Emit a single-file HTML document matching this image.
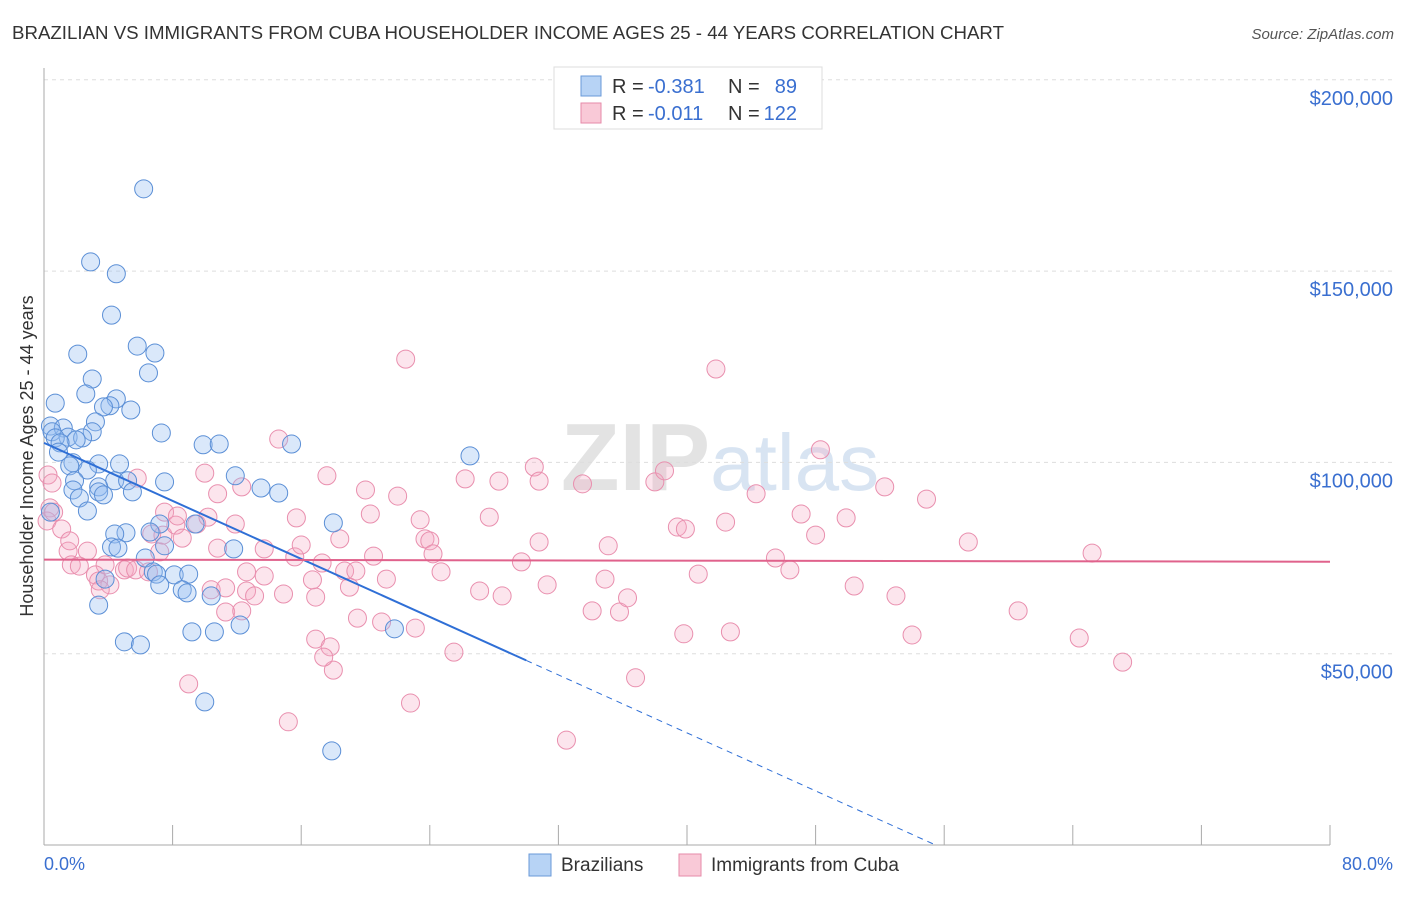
<!DOCTYPE html>
<html><head><meta charset="utf-8"><style>
body{margin:0;background:#fff;font-family:"Liberation Sans",sans-serif;}
</style></head><body>
<svg width="1406" height="892" xmlns="http://www.w3.org/2000/svg" id="svg" style="font-family:'Liberation Sans',sans-serif">
<text x="12" y="39" font-size="18" fill="#333" textLength="992" lengthAdjust="spacingAndGlyphs">BRAZILIAN VS IMMIGRANTS FROM CUBA HOUSEHOLDER INCOME AGES 25 - 44 YEARS CORRELATION CHART</text>
<text x="1394" y="39" font-size="15" fill="#555" text-anchor="end" font-style="italic">Source: ZipAtlas.com</text>
<text x="720" y="490" font-size="96" fill="#e3e3e3" text-anchor="middle" font-weight="bold">ZIP<tspan fill="#d8e4f2" font-weight="normal" font-size="80">atlas</tspan></text>
<g id="grid"></g>
<g id="marks"></g>
<text transform="translate(33,456) rotate(-90)" font-size="18" fill="#333" text-anchor="middle">Householder Income Ages 25 - 44 years</text>
<text x="44" y="870" font-size="18" fill="#3a6fd0">0.0%</text>
<text x="1393" y="870" font-size="18" fill="#3a6fd0" text-anchor="end">80.0%</text>
<g>
<rect x="554" y="67" width="268" height="62" fill="#fff" stroke="#ddd"/>
<rect x="581" y="76" width="20" height="20" fill="#b7d3f5" stroke="#6a9ad8"/>
<rect x="581" y="103" width="20" height="20" fill="#f9c9d7" stroke="#e68aa8"/>
<text x="612" y="93" font-size="20" fill="#333">R =</text>
<text x="648" y="93" font-size="20" fill="#3a6fd0">-0.381</text>
<text x="728" y="93" font-size="20" fill="#333">N =</text>
<text x="797" y="93" font-size="20" fill="#3a6fd0" text-anchor="end">89</text>
<text x="612" y="120" font-size="20" fill="#333">R =</text>
<text x="648" y="120" font-size="20" fill="#3a6fd0">-0.011</text>
<text x="728" y="120" font-size="20" fill="#333">N =</text>
<text x="797" y="120" font-size="20" fill="#3a6fd0" text-anchor="end">122</text>
</g>
<g>
<rect x="529" y="854" width="22" height="22" fill="#b7d3f5" stroke="#6a9ad8"/>
<text x="561" y="871" font-size="19" fill="#333">Brazilians</text>
<rect x="679" y="854" width="22" height="22" fill="#f9c9d7" stroke="#e68aa8"/>
<text x="711" y="871" font-size="19" fill="#333">Immigrants from Cuba</text>
</g>
</svg>
<script>
const yTicks=[50000,100000,150000,200000];
const yTickLabels=["$50,000","$100,000","$150,000","$200,000"];
const xTicks=[0,8,16,24,32,40,48,56,64,72,80];
const bluePct=[6.2,2.9,4.5,4.2,2.1,5.8,6.9,6.5,3.0,2.6,4.5,0.7,4.1,3.7,5.4,3.2,0.4,1.2,0.5,3.0,7.3,1.5,0.7,2.4,2.0,1.0,9.9,10.9,15.4,0.9,26.5,1.8,4.7,3.4,1.6,2.7,11.9,4.4,7.5,1.9,3.4,5.2,13.5,14.6,1.8,3.4,3.7,5.5,2.2,2.7,0.4,9.4,18.0,7.2,5.1,4.4,6.6,4.2,7.5,4.6,11.8,6.3,6.8,8.1,7.0,9.0,3.8,7.2,8.6,8.9,10.4,3.4,12.2,21.8,9.2,10.6,5.0,6.0,10.0,17.9];
const blueK=[171.5,152.4,149.3,138.5,128.3,130.4,128.6,123.4,121.8,117.9,116.6,115.5,114.8,114.5,113.7,110.6,109.5,109.0,108.0,108.0,107.7,106.6,106.4,106.4,105.9,105.1,104.6,104.8,104.8,102.7,101.7,99.9,99.6,99.6,99.1,98.0,96.5,95.2,94.9,95.2,93.6,95.2,93.3,92.0,92.8,92.3,91.5,92.3,90.7,87.3,87.0,83.9,84.2,83.9,81.6,81.3,81.8,77.9,78.2,77.6,77.4,75.0,71.4,70.6,70.8,70.8,69.5,68.0,66.7,65.9,65.1,62.7,57.5,56.5,55.7,55.7,53.1,52.3,37.4,24.6];
const pinkPct=[0.25,0.5,0.37,0.19,1.1,1.5,2.7,1.7,2.2,3.8,3.2,5.0,5.2,3.4,4.1,5.7,6.5,7.2,6.7,5.8,7.5,7.4,8.2,8.3,8.6,9.5,10.0,10.8,10.2,10.8,11.9,12.3,10.4,11.3,12.6,12.6,13.7,13.7,13.1,14.9,15.7,15.6,16.0,14.6,16.9,16.7,17.3,17.6,18.4,18.7,19.4,19.0,20.0,20.3,20.5,19.5,21.0,21.3,22.0,22.5,23.4,23.7,24.0,24.2,24.7,23.1,22.8,15.2,16.9,17.8,18.0,17.4,9.0,25.5,26.2,27.1,27.7,28.3,28.5,29.7,30.5,30.8,30.8,31.3,33.5,35.1,34.9,34.1,35.8,36.3,36.8,38.0,38.6,39.4,39.9,39.8,40.7,41.8,42.4,42.7,44.3,45.5,46.4,47.1,48.0,48.3,49.9,50.4,52.3,53.0,54.0,54.9,57.5,60.6,64.4,65.2,67.1,32.5,11.3,12.3,3.5,0.6,1.6];
const pinkK=[96.7,94.6,88.1,84.7,82.6,76.8,76.8,73.2,72.9,73.2,70.6,71.9,72.4,69.0,68.0,71.9,71.4,76.6,81.3,95.9,87.0,81.0,83.6,86.0,80.2,83.9,97.2,91.8,85.7,77.6,83.9,93.6,66.7,67.2,66.4,71.4,77.4,70.3,65.1,65.6,85.5,75.3,78.4,106.1,64.8,69.3,73.7,96.5,80.0,71.6,71.6,67.4,92.8,86.5,75.5,59.3,58.3,69.5,91.2,127.0,85.0,80.0,79.5,76.1,71.4,56.7,37.1,32.2,53.8,51.8,45.7,49.1,42.1,50.4,95.7,66.4,85.7,95.1,65.1,74.0,98.8,95.1,79.2,68.0,94.4,78.2,69.5,61.2,60.9,64.6,43.7,94.9,97.8,83.1,82.6,55.2,70.8,124.4,84.4,55.7,91.8,75.0,71.9,86.5,81.0,103.3,85.5,67.7,93.6,65.1,54.9,90.4,79.2,61.2,54.1,76.3,47.8,27.4,60.9,61.2,66.7,87.0,79.5];
const blueTrend=[105.1,-1.895];
const blueSolidEnd=[30];
const pinkTrend=[74.6,-0.007];
const NS="http://www.w3.org/2000/svg";
const X=p=>44+p/80*1286;
const Y=v=>845-v/50000*191.3;
function mk(t,a,parent){const e=document.createElementNS(NS,t);for(const k in a)e.setAttribute(k,a[k]);parent.appendChild(e);return e;}
const grid=document.getElementById('grid'),marks=document.getElementById('marks');
yTicks.forEach((v,i)=>{
 const l=mk('line',{x1:44,x2:1393,y1:Y(v),y2:Y(v),stroke:'#ddd','stroke-dasharray':'4,4'},grid);
 
 
 const t=mk('text',{x:1393,y:Y(v)+25,'font-size':20,fill:'#3a6fd0','text-anchor':'end'},grid);
 t.textContent=yTickLabels[i];
 
 
});
const ax=mk('line',{x1:44,x2:1330,y1:845,y2:845,stroke:'#aaa'},grid);


const ay=mk('line',{x1:44,x2:44,y1:68,y2:845,stroke:'#aaa'},grid);


xTicks.forEach(p=>{
 const l=mk('line',{x1:X(p),x2:X(p),y1:825,y2:845,stroke:'#aaa'},grid);
 
 
});
pinkPct.forEach((p,i)=>{
 const c=mk('circle',{cx:X(p),cy:Y(pinkK[i]*1000),r:9,fill:'rgba(245,170,195,0.3)',stroke:'#e98fae','stroke-width':1},marks);
 
 
});
bluePct.forEach((p,i)=>{
 const c=mk('circle',{cx:X(p),cy:Y(blueK[i]*1000),r:9,fill:'rgba(150,190,240,0.35)',stroke:'#5b8fd6','stroke-width':1},marks);
 
 
});
const bv=p=>(blueTrend[0]+blueTrend[1]*p)*1000;
const bEnd=-blueTrend[0]/blueTrend[1];
const b1=mk('line',{x1:X(0),y1:Y(bv(0)),x2:X(blueSolidEnd[0]),y2:Y(bv(blueSolidEnd[0])),stroke:'#2f6fd6','stroke-width':2},marks);


const b2=mk('line',{x1:X(blueSolidEnd[0]),y1:Y(bv(blueSolidEnd[0])),x2:X(bEnd),y2:Y(bv(bEnd)),stroke:'#2f6fd6','stroke-width':1,'stroke-dasharray':'6,5'},marks);


const pv=p=>(pinkTrend[0]+pinkTrend[1]*p)*1000;
const pl=mk('line',{x1:X(0),y1:Y(pv(0)),x2:X(80),y2:Y(pv(80)),stroke:'#e0628c','stroke-width':2},marks);


</script>
</body></html>
